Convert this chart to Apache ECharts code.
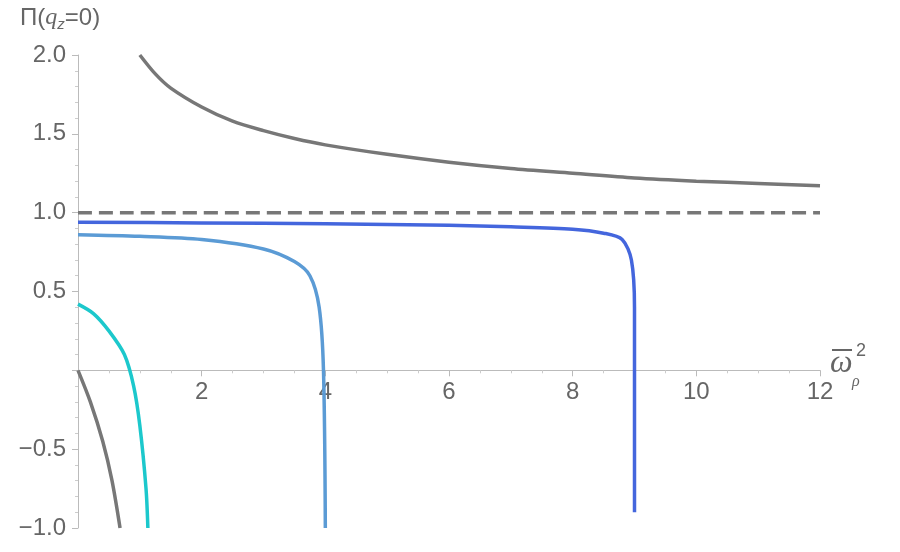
<!DOCTYPE html>
<html><head><meta charset="utf-8">
<script src="https://cdn.jsdelivr.net/npm/echarts@6/dist/echarts.min.js"></script>
<style>html,body{margin:0;background:#fff}#c{width:900px;height:552px}</style>
</head><body><div id="c"></div>
<script>
const grayTopX=[1,1.25,1.5,2,2.5,3,3.5,4,5,6,7,8,9,10,11,12];
const grayTopY=[2.0,1.88,1.79,1.67,1.58,1.52,1.47,1.43,1.37,1.32,1.28,1.25,1.22,1.20,1.185,1.17];
const blueX=[0,2,4,6,7,8,8.5,8.8,8.95,9.0,9.0];
const blueY=[0.94,0.935,0.93,0.92,0.91,0.895,0.87,0.83,0.7,0.4,-0.9];
const steelX=[0,1,2,3,3.5,3.75,3.9,3.97,4.0];
const steelY=[0.86,0.85,0.83,0.77,0.69,0.6,0.4,0,-1.0];
const cyanX=[0,0.25,0.5,0.75,0.9,1.0,1.1,1.13];
const cyanY=[0.42,0.36,0.25,0.1,-0.1,-0.35,-0.75,-1.0];
const grayBotX=[0,0.2,0.4,0.55,0.68];
const grayBotY=[0,-0.2,-0.45,-0.7,-1.0];
const dashX=[0,12], dashY=[1,1];
const zip=(a,b)=>a.map((v,i)=>[v,b[i]]);
const ln=(x,y,c,t)=>({type:'line',data:zip(x,y),showSymbol:false,smooth:0.3,lineStyle:{color:c,width:3.5,type:t||'solid'},z:3});
const chart=echarts.init(document.getElementById('c'));
const lab={color:'#666',fontSize:24,fontFamily:'Liberation Sans'};
chart.setOption({
 animation:false,
 grid:{left:78,right:80,top:55,bottom:24,containLabel:false},
 xAxis:{type:'value',min:0,max:12,interval:2,offset:-157.7,
  axisLine:{onZero:false,lineStyle:{color:'#bbb'}},
  axisTick:{lineStyle:{color:'#bbb'},length:6},
  minorTick:{show:true,splitNumber:4,length:3,lineStyle:{color:'#ccc'}},
  splitLine:{show:false},
  axisLabel:Object.assign({formatter:v=>v===0?'':v,margin:10},lab)},
 yAxis:{type:'value',min:-1,max:2,interval:0.5,
  axisLine:{onZero:true,lineStyle:{color:'#bbb'}},
  axisTick:{lineStyle:{color:'#bbb'},length:6},
  minorTick:{show:true,splitNumber:5,length:3,lineStyle:{color:'#ccc'}},
  splitLine:{show:false},
  axisLabel:Object.assign({formatter:v=>v===0?'':(v<0?'\u2212'+(-v).toFixed(1):v.toFixed(1)),margin:12},lab)},
 graphic:[
  {type:'text',left:20,top:6,style:{text:'Π({q|q}{s|z}=0)',rich:{q:{fontStyle:'italic',fontSize:24,fill:'#666',fontFamily:'Liberation Serif'},s:{fontStyle:'italic',fontSize:15,fill:'#666',verticalAlign:'bottom',padding:[14,0,0,0]}},fontSize:24,fill:'#666',fontFamily:'Liberation Sans'}},
  {type:'line',shape:{x1:832,y1:350,x2:852,y2:350},style:{stroke:'#666',lineWidth:2}},
  {type:'text',left:830,top:348,style:{text:'ω',fontSize:32,fontStyle:'italic',fill:'#666',fontFamily:'Liberation Serif'}},
  {type:'text',left:852,top:374,style:{text:'ρ',fontSize:16,fontStyle:'italic',fill:'#666',fontFamily:'Liberation Serif'}},
  {type:'text',left:856,top:342,style:{text:'2',fontSize:18,fill:'#666',fontFamily:'Liberation Sans'}}
 ],
 series:[
  ln(dashX,dashY,'#777','dashed'),
  ln(grayTopX,grayTopY,'#777'),
  ln(blueX,blueY,'#4466DD'),
  ln(steelX,steelY,'#5B9BD5'),
  ln(cyanX,cyanY,'#1CC8CC'),
  ln(grayBotX,grayBotY,'#777')
 ]
});
</script></body></html>
